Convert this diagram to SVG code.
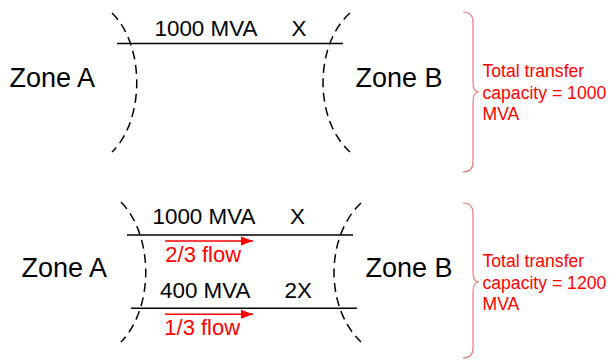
<svg xmlns="http://www.w3.org/2000/svg" width="610" height="360" viewBox="0 0 610 360">
<defs>
<style>
.t{font-family:"Liberation Sans",Arial,sans-serif;fill:#000}
.zone{font-size:27px}
.lab{font-size:22.4px}
.red{font-family:"Liberation Sans",Arial,sans-serif;fill:#f00;font-size:17.6px}
.flow{font-family:"Liberation Sans",Arial,sans-serif;fill:#f00;font-size:22px}
.line{stroke:#000;stroke-width:1.5;fill:none}
.dash{stroke:#000;stroke-width:1.5;fill:none;stroke-dasharray:9 5.5}
.brace{stroke:#ec7a7a;stroke-width:1.2;fill:none}
.arrow{stroke:#f00;stroke-width:1.6;fill:none;marker-end:url(#ah)}
</style>
<marker id="ah" markerUnits="userSpaceOnUse" markerWidth="13" markerHeight="10" refX="12" refY="5" orient="auto">
<path d="M0,0.5 L12,5 L0,9.5 Z" fill="#f00"/>
</marker>
</defs>
<rect width="610" height="360" fill="#fff"/>

<g id="top-boundary-left"><path class="dash" d="M112,13 C145,45 145,120 112,152"/></g>
<g id="top-boundary-right"><path class="dash" d="M350,13 C314,45 314,120 350,152"/></g>
<g id="top-zone-a"><text class="t zone" x="9.5" y="87">Zone A</text></g>
<g id="top-zone-b"><text class="t zone" x="355.5" y="87">Zone B</text></g>
<g id="top-line-1">
<text class="t lab" x="154.5" y="36">1000 MVA</text>
<text class="t lab" x="291.5" y="36">X</text>
</g>
<g id="top-total">
<path class="brace" d="M463,12 Q473,12 473,22 L473,82 Q473,92 479,92 Q473,92 473,102 L473,162 Q473,172 463,172"/>
<text class="red" x="482.5" y="77">Total transfer</text>
<text class="red" x="482.5" y="98.7">capacity = 1000</text>
<text class="red" x="482.5" y="120.4">MVA</text>
</g>

<g id="bottom-boundary-left"><path class="dash" d="M121,202 C154,236 154,308 121,342"/></g>
<g id="bottom-boundary-right"><path class="dash" d="M361,203 C325,237 325,308 361,342"/></g>
<g id="bottom-zone-a"><text class="t zone" x="21.5" y="277">Zone A</text></g>
<g id="bottom-zone-b"><text class="t zone" x="365.5" y="277">Zone B</text></g>
<g id="bottom-line-1">
<text class="t lab" x="152.5" y="224.3">1000 MVA</text>
<text class="t lab" x="290" y="224.3">X</text>
<text class="flow" x="165.3" y="261.7">2/3 flow</text>
</g>
<g id="bottom-line-2">
<text class="t lab" x="160" y="298.3">400 MVA</text>
<text class="t lab" x="284.5" y="298.3">2X</text>
<text class="flow" x="164.3" y="335">1/3 flow</text>
</g>
<g id="bottom-total">
<path class="brace" d="M463,203 Q473,203 473,213 L473,272 Q473,282 479,282 Q473,282 473,292 L473,348 Q473,358 463,358"/>
<text class="red" x="482.5" y="267">Total transfer</text>
<text class="red" x="482.5" y="288.7">capacity = 1200</text>
<text class="red" x="482.5" y="310.4">MVA</text>
</g>

<g id="connectors">
<line class="line" x1="117" y1="43.5" x2="343" y2="43.5"/>
<line class="line" x1="127" y1="235" x2="353" y2="235"/>
<line class="line" x1="131" y1="308.3" x2="357" y2="308.3"/>
<line class="arrow" x1="165" y1="241" x2="253" y2="241"/>
<line class="arrow" x1="165" y1="314.3" x2="253" y2="314.3"/>
</g>
</svg>
